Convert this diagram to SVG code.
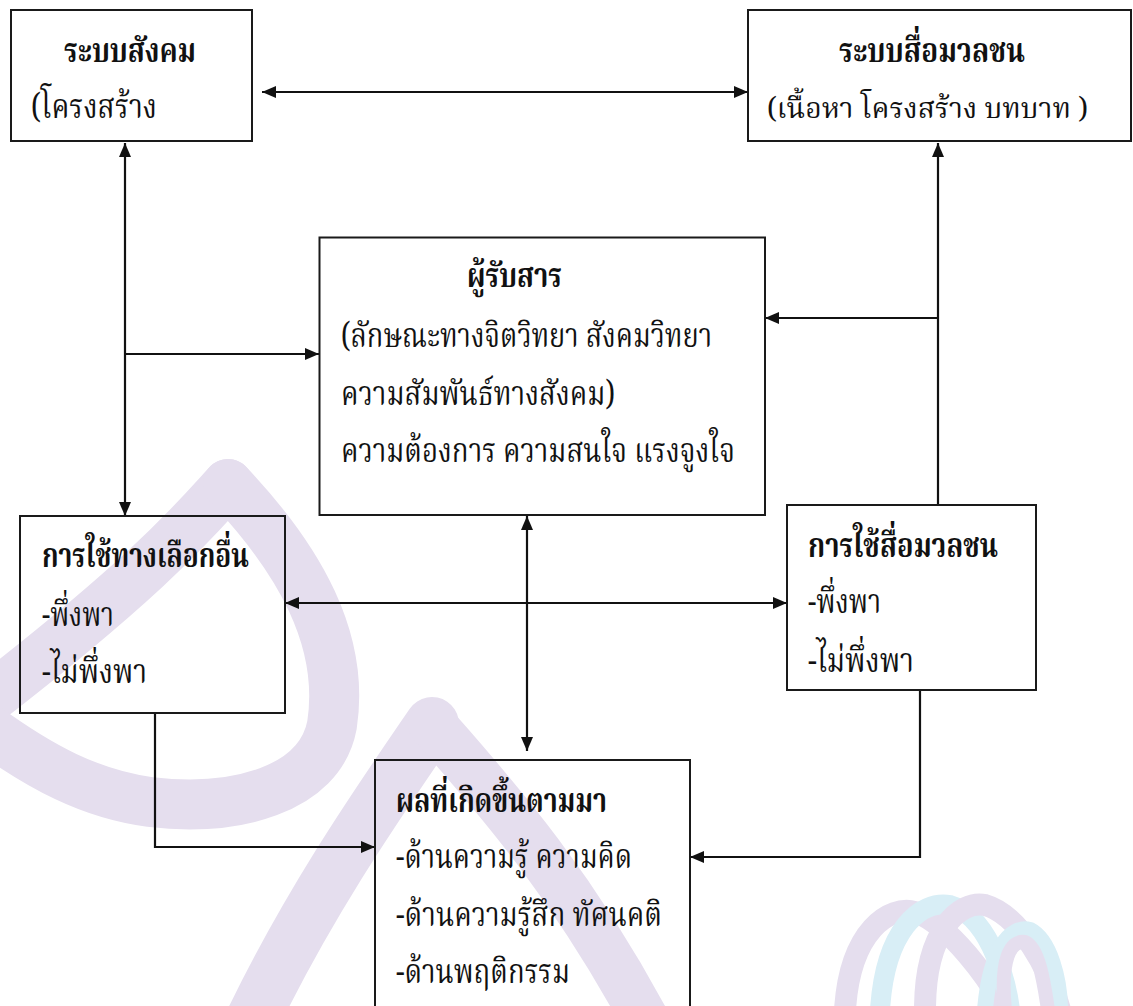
<svg xmlns="http://www.w3.org/2000/svg" width="1133" height="1006" viewBox="0 0 1133 1006">
<defs>
<style>
.box{fill:none;stroke:#1a1a1a;stroke-width:2}
.ln{fill:none;stroke:#111;stroke-width:2.2}
.t{font-family:"Noto Serif Thai","Noto Sans Thai","Norasi","Loma","Garuda","Noto Sans","DejaVu Sans",sans-serif;font-size:34px;fill:#111}
.s{font-size:29px}
.b{font-weight:bold}
.wm{fill:none;stroke:#e5deee;stroke-linecap:round}
.wc{fill:none;stroke:#d8eef6;stroke-linecap:round}
</style>
<marker id="ah" viewBox="0 0 14 12" refX="14" refY="6" markerWidth="14" markerHeight="12" markerUnits="userSpaceOnUse" orient="auto-start-reverse">
<path d="M0,0 L14,6 L0,12 Z" fill="#111"/>
</marker>
</defs>
<rect width="1133" height="1006" fill="#fff"/>
<g id="watermark">
<path class="wm" stroke-width="50" d="M228,484 C195,520 150,575 -25,710"/>
<path class="wm" stroke-width="50" d="M228,484 C300,560 345,640 332,725 C320,790 235,812 150,802 C90,794 40,767 -15,727"/>
<path class="wm" stroke-width="54" d="M432,724 C380,800 310,900 250,1025"/>
<path class="wm" stroke-width="48" d="M432,724 C480,780 565,870 648,1025"/>
<path class="wm" stroke-width="22" d="M845,1010 C850,930 890,905 915,912 C950,925 990,980 1005,1010"/>
<path class="wc" stroke-width="20" d="M880,1010 C885,930 920,900 950,905 C985,915 1005,970 1010,1010"/>
<path class="wm" stroke-width="22" d="M925,1010 C925,930 960,900 985,905 C1020,915 1050,970 1060,1010"/>
<path class="wc" stroke-width="16" d="M985,1010 C990,950 1010,925 1030,930 C1050,940 1060,980 1060,1010"/>
<path class="wm" stroke-width="14" d="M1005,1010 C1000,960 1010,940 1025,942 C1040,948 1045,990 1048,1010"/>
</g>
<g id="connectors">
<path class="ln" d="M262,92 L748,92" marker-start="url(#ah)" marker-end="url(#ah)"/>
<path class="ln" d="M125,143 L125,516" marker-start="url(#ah)" marker-end="url(#ah)"/>
<path class="ln" d="M125,354 L319,354" marker-end="url(#ah)"/>
<path class="ln" d="M938,506 L938,143" marker-end="url(#ah)"/>
<path class="ln" d="M938,318 L765,318" marker-end="url(#ah)"/>
<path class="ln" d="M285,603 L787,603" marker-start="url(#ah)" marker-end="url(#ah)"/>
<path class="ln" d="M527,516 L527,751" marker-start="url(#ah)" marker-end="url(#ah)"/>
<path class="ln" d="M155,713 L155,847 L375,847" marker-end="url(#ah)"/>
<path class="ln" d="M920,690 L920,857 L690,857" marker-end="url(#ah)"/>
</g>
<g id="social-system">
<rect class="box" x="11" y="10" width="241" height="131"/>
<text class="t b" x="64" y="62" textLength="132" lengthAdjust="spacingAndGlyphs">ระบบสังคม</text>
<text class="t" x="31" y="118" textLength="126" lengthAdjust="spacingAndGlyphs">(โครงสร้าง</text>
</g>
<g id="media-system">
<rect class="box" x="748" y="10" width="383" height="131"/>
<text class="t b" x="839" y="62" textLength="186" lengthAdjust="spacingAndGlyphs">ระบบสื่อมวลชน</text>
<text class="t s" x="767" y="118" textLength="321" lengthAdjust="spacingAndGlyphs">(เนื้อหา โครงสร้าง บทบาท )</text>
</g>
<g id="audience">
<rect class="box" x="319.5" y="237.5" width="445.5" height="277.5"/>
<text class="t b" x="467" y="287" textLength="95" lengthAdjust="spacingAndGlyphs">ผู้รับสาร</text>
<text class="t" x="341" y="347" textLength="371" lengthAdjust="spacingAndGlyphs">(ลักษณะทางจิตวิทยา สังคมวิทยา</text>
<text class="t" x="341" y="405" textLength="274" lengthAdjust="spacingAndGlyphs">ความสัมพันธ์ทางสังคม)</text>
<text class="t" x="341" y="462" textLength="394" lengthAdjust="spacingAndGlyphs">ความต้องการ ความสนใจ แรงจูงใจ</text>
</g>
<g id="alternative-use">
<rect class="box" x="20" y="516" width="265" height="197"/>
<text class="t b" x="42" y="567" textLength="207" lengthAdjust="spacingAndGlyphs">การใช้ทางเลือกอื่น</text>
<text class="t" x="42" y="626" textLength="72" lengthAdjust="spacingAndGlyphs">-พึ่งพา</text>
<text class="t" x="42" y="683" textLength="105" lengthAdjust="spacingAndGlyphs">-ไม่พึ่งพา</text>
</g>
<g id="media-use">
<rect class="box" x="787" y="505" width="249" height="185"/>
<text class="t b" x="808" y="557" textLength="190" lengthAdjust="spacingAndGlyphs">การใช้สื่อมวลชน</text>
<text class="t" x="808" y="613" textLength="73" lengthAdjust="spacingAndGlyphs">-พึ่งพา</text>
<text class="t" x="808" y="672" textLength="106" lengthAdjust="spacingAndGlyphs">-ไม่พึ่งพา</text>
</g>
<g id="effects">
<rect class="box" x="375" y="760" width="315" height="260"/>
<text class="t b" x="396" y="812" textLength="211" lengthAdjust="spacingAndGlyphs">ผลที่เกิดขึ้นตามมา</text>
<text class="t" x="396" y="868" textLength="236" lengthAdjust="spacingAndGlyphs">-ด้านความรู้ ความคิด</text>
<text class="t" x="396" y="926" textLength="266" lengthAdjust="spacingAndGlyphs">-ด้านความรู้สึก ทัศนคติ</text>
<text class="t" x="396" y="983" textLength="174" lengthAdjust="spacingAndGlyphs">-ด้านพฤติกรรม</text>
</g>
</svg>
